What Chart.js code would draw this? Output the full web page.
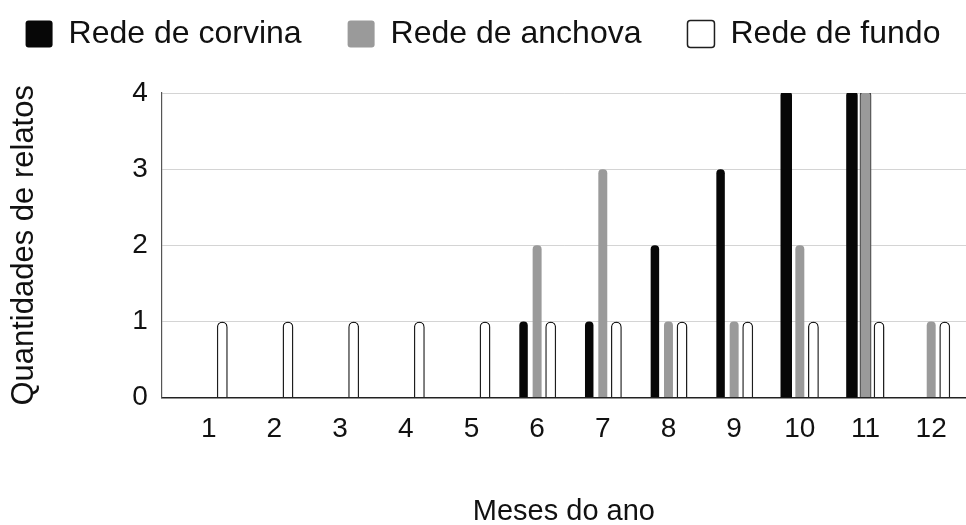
<!DOCTYPE html>
<html>
<head>
<meta charset="utf-8">
<script src="https://cdn.jsdelivr.net/npm/chart.js@4/dist/chart.umd.min.js"></script>
<style>
  html, body { margin: 0; padding: 0; background: #ffffff; }
  #wrap { width: 966px; height: 525px; }
</style>
</head>
<body>
<div id="wrap"><canvas id="c" width="966" height="525"></canvas></div>
<script>
// ---- data ----
const months = [1, 2, 3, 4, 5, 6, 7, 8, 9, 10, 11, 12];
const seriesNames = ['Rede de corvina', 'Rede de anchova', 'Rede de fundo'];
const corvina = [0, 0, 0, 0, 0, 1, 1, 2, 3, 4, 4, 0];
const anchova = [0, 0, 0, 0, 0, 2, 3, 1, 1, 2, 4, 1];
const fundo   = [1, 1, 1, 1, 1, 1, 1, 1, 1, 1, 1, 1];
const yTicks = [0, 1, 2, 3, 4];
const xTitle = 'Meses do ano';
const yTitle = 'Quantidades de relatos';

const FONT = "'Liberation Sans', Arial, sans-serif";
const toPoints = (vals) => months.map((m, i) => ({ x: m, y: vals[i] === 0 ? null : vals[i] }));
const isMax = (c) => c.raw && c.raw.y === 4;

// keep the legend on one row with wide gaps, and leave room below it
const legendSpacer = {
  id: 'legendSpacer',
  beforeInit(chart) {
    const lg = chart.legend;
    if (!lg) return;
    const orig = lg.fit;
    lg.fit = function () {
      const mw = this.maxWidth;
      this.maxWidth = mw + 300;
      orig.call(this);
      this.maxWidth = mw;
      this.width = Math.min(this.width, mw);
      this.height += 33;
    };
  },
  beforeDraw(chart) {
    const lg = chart.legend;
    if (!lg) return;
    lg.left -= 150;
    lg.right += 150;
  }
};

new Chart(document.getElementById('c'), {
  type: 'bar',
  data: {
    datasets: [
      {
        label: seriesNames[0],
        data: toPoints(corvina),
        backgroundColor: '#070707',
        borderWidth: 0,
        borderRadius: { topLeft: 4, topRight: 4, bottomLeft: 0, bottomRight: 0 },
        borderSkipped: 'bottom',
        categoryPercentage: 0.62,
        barPercentage: 0.625,
        inflateAmount: (c) => isMax(c) ? 1.5 : 0
      },
      {
        label: seriesNames[1],
        data: toPoints(anchova),
        backgroundColor: '#9a9a9a',
        borderColor: '#444444',
        borderWidth: (c) => isMax(c) ? 1.2 : 0,
        borderRadius: { topLeft: 4, topRight: 4, bottomLeft: 0, bottomRight: 0 },
        borderSkipped: 'bottom',
        categoryPercentage: 0.62,
        barPercentage: 0.66,
        inflateAmount: (c) => isMax(c) ? 1.5 : 0
      },
      {
        label: seriesNames[2],
        data: toPoints(fundo),
        backgroundColor: '#ffffff',
        borderColor: '#1e1e1e',
        borderWidth: 1.5,
        borderRadius: { topLeft: 6, topRight: 6, bottomLeft: 0, bottomRight: 0 },
        borderSkipped: 'bottom',
        categoryPercentage: 0.62,
        barPercentage: 0.8,
        inflateAmount: 0
      }
    ]
  },
  options: {
    responsive: false,
    animation: false,
    devicePixelRatio: 1,
    layout: { padding: { top: -28, bottom: -4, left: 0, right: 0 } },
    plugins: {
      tooltip: { enabled: false },
      legend: {
        display: true,
        position: 'top',
        align: 'center',
        labels: {
          font: { family: FONT, size: 32 },
          color: '#111111',
          boxWidth: 27,
          boxHeight: 27,
          padding: 46,
          useBorderRadius: true,
          borderRadius: 3
        }
      }
    },
    scales: {
      x: {
        type: 'linear',
        min: 0.285,
        max: 12.53,
        offset: false,
        afterBuildTicks: (s) => { s.ticks = months.map((v) => ({ value: v })); },
        ticks: {
          font: { family: FONT, size: 28 },
          color: '#111111',
          padding: 15,
          autoSkip: false,
          maxRotation: 0,
          callback: (v) => String(v)
        },
        grid: { display: false, drawTicks: false },
        border: { display: true, color: '#222222', width: 1.5 },
        title: {
          display: true,
          text: xTitle,
          font: { family: FONT, size: 29 },
          color: '#111111',
          padding: { top: 33, bottom: 0 }
        }
      },
      y: {
        type: 'linear',
        min: 0,
        max: 4,
        afterBuildTicks: (s) => { s.ticks = yTicks.map((v) => ({ value: v })); },
        ticks: {
          font: { family: FONT, size: 28 },
          color: '#111111',
          padding: 14,
          callback: (v) => String(v)
        },
        grid: { color: '#d4d4d4', lineWidth: 1, drawTicks: false },
        border: { display: true, color: '#555555', width: 1.2 },
        title: {
          display: true,
          text: yTitle,
          font: { family: FONT, size: 31 },
          color: '#111111',
          padding: { top: 6, bottom: 75 }
        }
      }
    }
  },
  plugins: [legendSpacer]
});
</script>
</body>
</html>
